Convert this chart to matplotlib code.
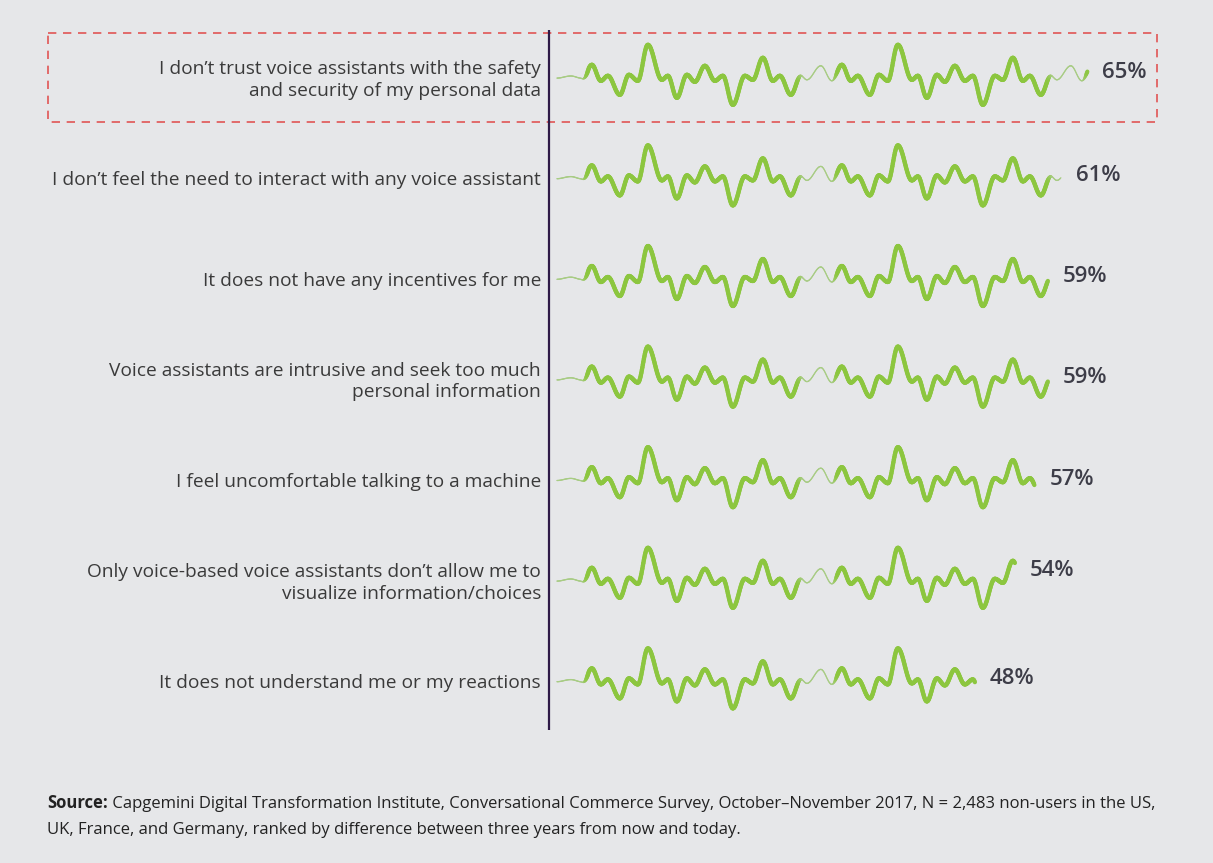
import numpy as np
import matplotlib.pyplot as plt
from matplotlib.collections import LineCollection
from matplotlib.patches import Rectangle
from matplotlib.colors import to_rgb

plt.rcParams['font.family'] = ['Open Sans', 'DejaVu Sans']

labels = [
    "I don\u2019t trust voice assistants with the safety\nand security of my personal data",
    "I don\u2019t feel the need to interact with any voice assistant",
    "It does not have any incentives for me",
    "Voice assistants are intrusive and seek too much\npersonal information",
    "I feel uncomfortable talking to a machine",
    "Only voice-based voice assistants don\u2019t allow me to\nvisualize information/choices",
    "It does not understand me or my reactions",
]
values = [65, 61, 59, 59, 57, 54, 48]

source_head = "Source:"
source_line1 = (" Capgemini Digital Transformation Institute, Conversational Commerce "
                "Survey, October\u2013November 2017, N = 2,483 non-users in the US,")
source_line2 = ("UK, France, and Germany, ranked by difference between three years "
                "from now and today.")

BG = '#e6e7e9'
GREEN = '#8cc63f'
GREEN_THIN = '#a8cc84'
TEXT = '#3a3a3a'

# layout scale: pixels per percent / per row
PX = 6.61
ROW = 100.6
WAVE_START = -15.3

# one period of the "voice" wave: (offset px, height px)
PATTERN = [(0, -2), (14, 12), (25, -3), (35, 13), (44, -3), (51, 2), (63, -17),
           (72, 3), (81, -3), (91, 33), (105, -2), (111, 2), (120, -20), (130, 3),
           (138, -4), (148, 12), (158, -3), (166, 2), (176, -27), (188, 2),
           (196, -2), (206, 20), (216, -3), (223, 2), (234, -17), (244, 2)]
PERIOD = 250


def wave(s):
    xs, ys = [], []
    for k in range(4):
        for px, py in PATTERN:
            xs.append(px + k * PERIOD)
            ys.append(py)
    xs, ys = np.array(xs, float), np.array(ys, float)
    i = np.clip(np.searchsorted(xs, s) - 1, 0, len(xs) - 2)
    t = (s - xs[i]) / (xs[i + 1] - xs[i])
    y = ys[i] + (ys[i + 1] - ys[i]) * (1 - np.cos(np.pi * t)) / 2
    env = np.clip((s - 24) / 8, 0, 1) * 0.85 + 0.15
    return y * env


def smooth(a):
    a = np.clip(a, 0, 1)
    return a * a * (3 - 2 * a)


fig = plt.figure(figsize=(12.13, 8.63), dpi=100)
fig.patch.set_facecolor(BG)
ax = fig.add_axes([0, 0, 1, 1])
ax.set_facecolor(BG)
ax.set_xlim(-658 / PX, (1213 - 658) / PX)
ax.set_ylim((863 - 77.8) / ROW, -77.8 / ROW)
ax.axis('off')

c_thin = np.array(to_rgb(GREEN_THIN))
c_thick = np.array(to_rgb(GREEN))

for i, (lab, v) in enumerate(zip(labels, values)):
    length = (v - WAVE_START) * PX
    s = np.arange(0, length, 0.5)
    y = wave(s)
    cyc = s % PERIOD
    thick = smooth((cyc - 25) / 6) * smooth((PERIOD - 4 - cyc) / 6)
    xd = WAVE_START + s / PX
    yd = i - y / ROW
    pts = np.column_stack([xd, yd]).reshape(-1, 1, 2)
    segs = np.concatenate([pts[:-1], pts[1:]], axis=1)
    tk = thick[:-1]
    widths = 0.9 + tk * 2.2
    cols = c_thin + (c_thick - c_thin) * tk[:, None]
    lc = LineCollection(segs, linewidths=widths, colors=cols, capstyle='round',
                        joinstyle='round')
    ax.add_collection(lc)

    ax.text(-17.7, i + 0.02, lab, ha='right', va='center', fontsize=13.8,
            color=TEXT, linespacing=1.25)
    ax.text(v + 2.2, i - 0.4 * y[-1] / ROW - 0.03, f"{v}%", ha='left',
            va='center', fontsize=16, color='#3d3d48', fontweight='semibold')

# vertical divider
ax.plot([-16.5, -16.5], [(30 - 77.8) / ROW, (730 - 77.8) / ROW],
        color='#2e1a47', lw=1.6, solid_capstyle='butt')

# highlight box around first row
ax.add_patch(Rectangle((-92.3, (33 - 77.8) / ROW), 167.8, 89 / ROW, fill=False,
                       edgecolor='#e05555', lw=1.2, ls=(0, (5, 4))))

t = fig.text(47 / 1213, 1 - 812 / 863, source_head, fontsize=12,
             fontweight='bold', color='#222222', ha='left', va='bottom')
ax.annotate(source_line1, xy=(1, 0), xycoords=t, ha='left', va='bottom',
            fontsize=12, color='#222222', annotation_clip=False)
fig.text(47 / 1213, 1 - 838 / 863, source_line2, fontsize=12,
         color='#222222', ha='left', va='bottom')

fig.savefig('out.png', dpi=100, facecolor=BG)
